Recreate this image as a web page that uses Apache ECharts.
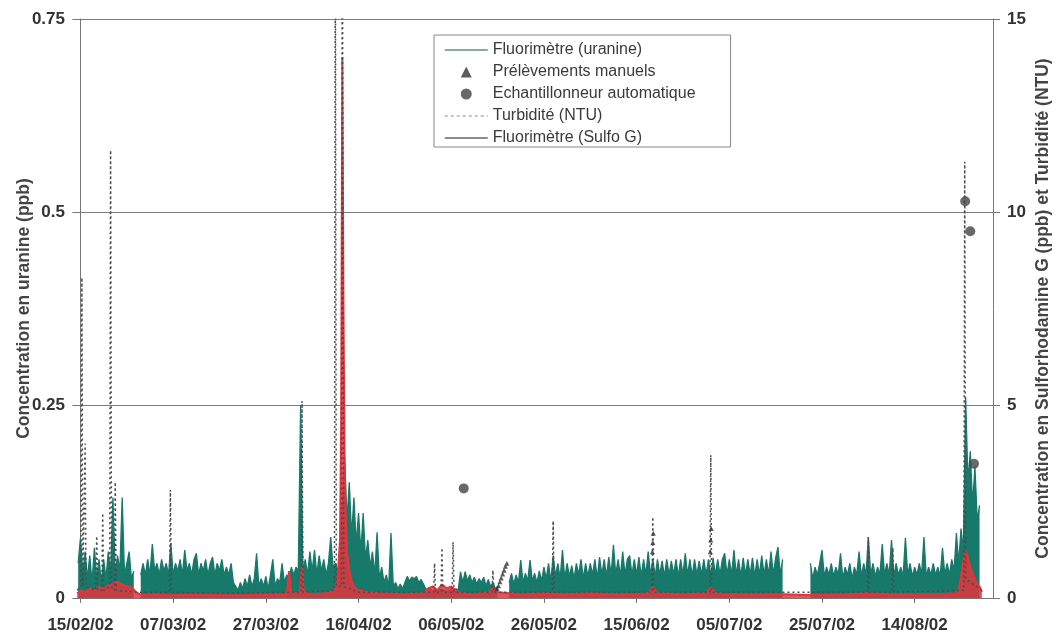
<!DOCTYPE html>
<html>
<head>
<meta charset="utf-8">
<script src="https://cdn.jsdelivr.net/npm/echarts@6/dist/echarts.min.js"></script>
<style>
  html, body { margin: 0; padding: 0; background: #fff; }
  #chart { width: 1057px; height: 636px; }
</style>
</head>
<body>
<div id="chart"></div>
<script>
// Time axis: days counted from 15/02/02
const labelDays = [0, 20, 40, 60, 80, 100, 120, 140, 160, 180];
const dateLabels = ['15/02/02', '07/03/02', '27/03/02', '16/04/02', '06/05/02',
                    '26/05/02', '15/06/02', '05/07/02', '25/07/02', '14/08/02'];

// Fluorimètre (uranine), ppb, one reading every 12 h starting at day -0.5
const uranineStartDay = -0.5;
const uranineStepDays = 0.5;
const uranine = [
  .045, .078, .03, .06, .025, .055, .02, .065, .025, .05,   // -0.5 .. 4
  .02, .05, .025, .06, .03, .13, .03, .055, .035, .13,      // 4.5 .. 9
  .03, .045, .06, .025, .035, null, null, .03, .045, .03,   // 9.5 .. 14
  .05, .03, .07, .035, .045, .03, .05, .035, .045, .03,     // 14.5 .. 19
  .071, .03, .045, .035, .05, .03, .062, .035, .045, .03,   // 19.5 .. 24
  .05, .058, .03, .045, .035, .05, .03, .045, .053, .03,    // 24.5 .. 29
  .045, .035, .05, .03, .04, .03, .045, .02, .015, .01,     // 29.5 .. 34
  .02, .012, .025, .015, .03, .015, .025, .058, .015, .025, // 34.5 .. 39
  .015, .028, .012, .03, .05, .015, .025, .02, .045, .02,   // 39.5 .. 44
  .03, .025, .04, .03, .04, .035, .25, .035, .05, .03,      // 44.5 .. 49
  .06, .035, .062, .03, .055, .035, .05, .03, .045, .079,   // 49.5 .. 54
  .04, .045, .035, .05, .12, .183, .10, .15, .08, .13,      // 54.5 .. 59
  .07, .11, .06, .11, .05, .075, .04, .06, .03, .085,       // 59.5 .. 64
  .025, .04, .02, .03, .015, .084, .015, .02, .012, .018,   // 64.5 .. 69
  .012, .02, .028, .022, .027, .025, .028, .02, .024, .018, // 69.5 .. 74
  .012, .01, .012, .008, .01, .009, .011, .008, .01, .009,  // 74.5 .. 79
  .01, .011, .009, .012, .01, .034, .02, .034, .022, .03,   // 79.5 .. 84
  .02, .027, .018, .025, .02, .027, .016, .024, .015, .02,  // 84.5 .. 89
  .012, .015, null, null, null, null, .02, .032, .018, .03, // 89.5 .. 94
  .02, .049, .02, .032, .022, .049, .022, .032, .02, .035,  // 94.5 .. 99
  .022, .04, .025, .045, .022, .055, .028, .045, .025, .062,// 99.5 .. 104
  .025, .045, .028, .042, .025, .045, .03, .05, .025, .045, // 104.5 .. 109
  .028, .045, .03, .05, .025, .053, .03, .05, .028, .053,   // 109.5 .. 114
  .03, .069, .03, .05, .028, .06, .03, .05, .055, .03,      // 114.5 .. 119
  .05, .03, .053, .028, .05, .03, .06, .03, .05, .028,      // 119.5 .. 124
  .05, .03, .048, .028, .05, .03, .048, .03, .05, .028,     // 124.5 .. 129
  .05, .03, .058, .03, .05, .028, .05, .03, .048, .03,      // 129.5 .. 134
  .05, .03, .05, .028, .052, .03, .05, .03, .05, .058,      // 134.5 .. 139
  .03, .05, .03, .062, .03, .05, .028, .052, .03, .05,      // 139.5 .. 144
  .03, .052, .028, .05, .03, .055, .03, .05, .03, .06,      // 144.5 .. 149
  .03, .052, .066, .03, .05, null, null, null, null, null,  // 149.5 .. 154
  null, null, null, null, null, null, .045, .025, .04, .03, // 154.5 .. 159
  .045, .062, .028, .04, .03, .045, .028, .04, .03, .058,   // 159.5 .. 164
  .025, .04, .03, .045, .025, .04, .03, .06, .028, .045,    // 164.5 .. 169
  .03, .079, .03, .045, .028, .04, .03, .07, .03, .045,     // 169.5 .. 174
  .03, .075, .028, .045, .03, .04, .028, .078, .03, .045,   // 174.5 .. 179
  .028, .04, .03, .045, .03, .079, .028, .04, .03, .045,    // 179.5 .. 184
  .03, .04, .028, .065, .03, .045, .03, .05, .035, .084,    // 184.5 .. 189
  .045, .09, .06, .26, .15, .19, .12, .17, .10, .12         // 189.5 .. 194
];

// Fluorimètre (Sulfo G), ppb: [day, value]
const sulfoG = [
  [-0.7, .12], [0, .2], [1, .15], [2, .25], [3, .2], [4, .28], [5, .25], [6, .32],
  [7, .38], [8, .42], [9, .35], [10, .3], [11, .28], [12, .15], [13, .08], [16, .1],
  [20, .07], [25, .09], [30, .08], [35, .07], [40, .1], [44.5, .1], [45, .7], [45.5, .1],
  [47.3, .15], [47.8, .8], [48.2, .15], [50, .1], [53, .12], [54.5, .18], [55, .3],
  [55.5, .55], [56, 1.5], [56.25, 4.5], [56.5, 14.0], [56.75, 7.5], [57, 3.5],
  [57.25, 2], [57.5, 1.2], [58, .7], [58.5, .45], [59, .3], [60, .2], [62, .15],
  [65, .12], [70, .1], [74, .12], [75, .25], [76, .3], [77, .2], [78, .35], [79, .25],
  [80, .3], [81, .2], [82, .12], [85, .1], [88, .15], [89, .25], [90, .15], [95, .1],
  [100, .12], [105, .1], [110, .12], [115, .1], [120, .1], [122.5, .12], [123.5, .28],
  [124.5, .12], [130, .1], [135, .12], [136, .28], [137, .12], [140, .1], [145, .1],
  [151.5, .1], [157.5, .08], [165, .1], [170, .12], [175, .1], [180, .1], [185, .1],
  [189, .12], [189.5, .25], [190, .55], [190.5, .95], [191, 1.22], [191.5, 1.05],
  [192, .8], [192.5, .65], [193, .5], [193.5, .35], [194, .3], [194.5, .15]
];

// Turbidité, NTU: [day, value]
const turbidity = [
  [-0.7, .2], [0.1, .3], [0.3, 8.3], [0.5, .3], [0.9, .3], [1.0, 4.0], [1.2, .3],
  [3.3, .2], [3.5, 1.6], [3.7, .2], [4.6, .2], [4.8, 2.2], [5.0, .2], [6.3, .3],
  [6.5, 11.6], [6.7, .3], [7.3, .2], [7.5, 3.0], [7.7, .2], [12, .15], [19.2, .15],
  [19.4, 2.8], [19.6, .15], [30, .12], [47.6, .15], [47.8, 5.1], [48.0, .15],
  [54.8, .2], [55.0, 18], [55.2, .3], [56.3, .3], [56.5, 18], [56.8, .3], [60, .15],
  [76.2, .15], [76.4, 0.9], [76.6, .15], [77.8, .15], [78.0, 1.3], [78.2, .15],
  [80.2, .15], [80.4, 1.45], [80.6, .15], [88.8, .15], [89.0, .72], [89.2, .15],
  [101.8, .15], [102.0, 2.0], [102.2, .15], [123.3, .15], [123.5, 2.1], [123.7, .15],
  [135.8, .15], [136.0, 3.7], [136.2, .15], [169.8, .15], [170.0, 1.58], [170.2, .15],
  [175.1, .15], [175.3, 1.3], [175.5, .15], [190.6, .2], [190.8, 11.3], [191.0, .5],
  [194.5, .2]
];

// Prélèvements manuels (uranine, ppb): [day, value]
const manualSamples = [
  [89.9, .012], [90.2, .016], [90.5, .021], [90.8, .026], [91.1, .031], [91.4, .036],
  [91.7, .041], [92.0, .045],
  [123.4, .06], [123.5, .072], [123.6, .084],
  [135.9, .06], [136.0, .075], [136.1, .09]
];

// Echantillonneur automatique (uranine, ppb): [day, value]
const autoSamples = [[82.7, .142], [190.9, .514], [192.0, .475], [192.8, .174]];

const FONT = '"Liberation Sans", Arial, sans-serif';
const TEAL = '#17796a';
const RED = '#e4343c';
const HIDDEN_MARK = { color: 'rgba(0,0,0,0)', opacity: 0, borderWidth: 0 };
// Legend triangle kept upright inside the wide legend key box
const LEGEND_TRIANGLE = 'path://M0,11L0,11ZM16,11L21.5,0L27,11ZM43,11L43,11Z';

const uranineData = uranine.map((v, i) => [uranineStartDay + i * uranineStepDays, v]);

const chart = echarts.init(document.getElementById('chart'), null, { renderer: 'canvas' });

chart.setOption({
  animation: false,
  backgroundColor: '#fff',
  grid: { left: 77, right: 64, top: 19, bottom: 38, containLabel: false, outerBoundsMode: 'none' },
  legend: {
    left: 434, top: 35, orient: 'vertical',
    itemWidth: 43, itemHeight: 11, itemGap: 6,
    padding: [7, 35, 1, 10],
    borderColor: '#888', borderWidth: 1, backgroundColor: '#fff',
    selectedMode: false,
    textStyle: { fontFamily: FONT, fontSize: 16, lineHeight: 16, color: '#3a3a3a' },
    data: [
      { name: 'Fluorimètre (uranine)', lineStyle: { color: '#5d8f8a', width: 1.5 }, itemStyle: HIDDEN_MARK },
      { name: 'Prélèvements manuels', icon: LEGEND_TRIANGLE, itemStyle: { color: '#333' } },
      { name: 'Echantillonneur automatique', itemStyle: { color: '#444' } },
      { name: 'Turbidité (NTU)', lineStyle: { color: '#888', type: [3, 3], width: 1.2 }, itemStyle: HIDDEN_MARK },
      { name: 'Fluorimètre (Sulfo G)', lineStyle: { color: '#666', width: 1.5 }, itemStyle: HIDDEN_MARK }
    ]
  },
  xAxis: {
    type: 'value',
    min: -0.75, max: 196.9,
    axisLine: { show: true, lineStyle: { color: '#777', width: 1 } },
    axisTick: { show: true, customValues: labelDays, length: 5, lineStyle: { color: '#777' } },
    axisLabel: {
      customValues: labelDays,
      margin: 19,
      fontFamily: FONT, fontSize: 17, fontWeight: 'bold', color: '#333',
      formatter: v => dateLabels[labelDays.indexOf(Math.round(v))]
    },
    splitLine: { show: false }
  },
  yAxis: [
    {
      type: 'value', position: 'left',
      min: 0, max: 0.75, interval: 0.25,
      name: 'Concentration en uranine (ppb)',
      nameLocation: 'middle', nameGap: 44, nameRotate: 90, nameMoveOverlap: false,
      nameTextStyle: { fontFamily: FONT, fontSize: 17.5, fontWeight: 'bold', color: '#444' },
      axisLine: { show: true, lineStyle: { color: '#777', width: 1 } },
      axisTick: { show: true, length: 8, lineStyle: { color: '#777' } },
      axisLabel: { margin: 12, fontFamily: FONT, fontSize: 17, fontWeight: 'bold', color: '#333' },
      splitLine: { show: true, lineStyle: { color: '#7d7d7d', width: 1 } }
    },
    {
      type: 'value', position: 'right',
      min: 0, max: 15, interval: 5,
      name: 'Concentration en Sulforhodamine G (ppb) et Turbidité (NTU)',
      nameLocation: 'middle', nameGap: 41, nameRotate: 90, nameMoveOverlap: false,
      nameTextStyle: { fontFamily: FONT, fontSize: 17.5, fontWeight: 'bold', color: '#444' },
      axisLine: { show: true, lineStyle: { color: '#777', width: 1 } },
      axisTick: { show: true, length: 7, lineStyle: { color: '#777' } },
      axisLabel: { margin: 14, fontFamily: FONT, fontSize: 17, fontWeight: 'bold', color: '#333' },
      splitLine: { show: false }
    }
  ],
  series: [
    {
      name: 'Fluorimètre (uranine)', type: 'line', yAxisIndex: 0,
      data: uranineData, symbol: 'none', connectNulls: false,
      lineStyle: { color: TEAL, width: 1.3 },
      itemStyle: { color: TEAL },
      areaStyle: { color: TEAL, opacity: 1 },
      z: 2
    },
    {
      name: 'Fluorimètre (Sulfo G)', type: 'line', yAxisIndex: 1,
      data: sulfoG, symbol: 'none',
      lineStyle: { color: RED, width: 2 },
      itemStyle: { color: RED },
      areaStyle: { color: RED, opacity: 0.85 },
      z: 3
    },
    {
      name: 'Turbidité (NTU)', type: 'line', yAxisIndex: 1,
      data: turbidity, symbol: 'none',
      lineStyle: { color: '#4a4a4a', width: 1.5, type: [2, 3] },
      itemStyle: { color: '#4a4a4a' },
      z: 4
    },
    {
      name: 'Prélèvements manuels', type: 'scatter', yAxisIndex: 0,
      data: manualSamples, symbol: 'triangle', symbolSize: 5,
      itemStyle: { color: '#333' },
      z: 5
    },
    {
      name: 'Echantillonneur automatique', type: 'scatter', yAxisIndex: 0,
      data: autoSamples, symbol: 'circle', symbolSize: 10,
      itemStyle: { color: '#444' },
      z: 6
    }
  ]
});
</script>
</body>
</html>
